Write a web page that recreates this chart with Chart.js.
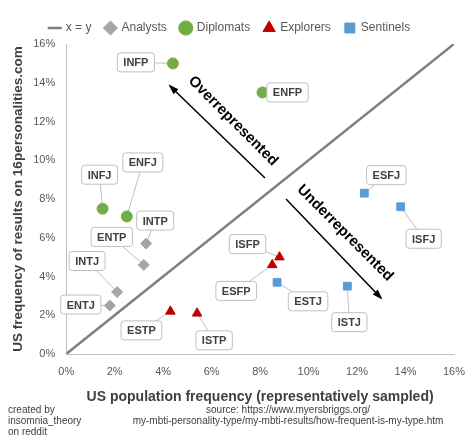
<!DOCTYPE html><html><head><meta charset="utf-8">
<script src="https://cdn.jsdelivr.net/npm/chart.js@4"></script>
<style>html,body{margin:0;padding:0;background:#fff}#w{width:474px;height:440px;position:relative}</style>
</head><body><div id="w"><canvas id="c" width="474" height="440"></canvas></div>
<script>
const types = ["INFP","ENFP","INFJ","ENFJ","INTP","ENTP","INTJ","ENTJ","ESTP","ISTP","ISFP","ESFP","ESTJ","ISTJ","ESFJ","ISFJ"];
const groupOf = ["Diplomats","Diplomats","Diplomats","Diplomats","Analysts","Analysts","Analysts","Analysts","Explorers","Explorers","Explorers","Explorers","Sentinels","Sentinels","Sentinels","Sentinels"];
const populationPct = [4.4,8.1,1.5,2.5,3.3,3.2,2.1,1.8,4.3,5.4,8.8,8.5,8.7,11.6,12.3,13.8];
const siteResultsPct = [15.0,13.5,7.5,7.1,5.7,4.6,3.2,2.5,2.2,2.1,5.0,4.6,3.7,3.5,8.3,7.6];
const labelDx = [-37,25,-3,16,9,-32,-30,-29,-29,17,-32,-36,31,2,22,23];
const labelDy = [-1,0,-34,-54,-23,-28,-31,-1,19,27,-13,26,19,36,-18,32];
const groups = ["Analysts","Diplomats","Explorers","Sentinels"];
const colors = {Analysts:"#a5a5a5",Diplomats:"#70ad47",Explorers:"#c00000",Sentinels:"#5b9bd5"};
const styles = {Analysts:"rectRot",Diplomats:"circle",Explorers:"triangle",Sentinels:"rect"};
const FONT = "'Liberation Sans', Arial, sans-serif";

const datasets = [{label:"x = y",type:"line",data:[{x:0,y:0},{x:16,y:16}],borderColor:"#7f7f7f",borderWidth:2.5,pointRadius:0,pointStyle:"line"}];
groups.forEach(g=>{
  const pts=[];
  types.forEach((t,i)=>{ if(groupOf[i]===g) pts.push({x:populationPct[i],y:siteResultsPct[i]}); });
  datasets.push({label:g,data:pts,backgroundColor:colors[g],borderColor:colors[g],pointStyle:styles[g],pointRadius:5.5,pointBorderWidth:1});
});

function labelPos(chart,i){
  const px=chart.scales.x.getPixelForValue(populationPct[i]), py=chart.scales.y.getPixelForValue(siteResultsPct[i]);
  return {px,py,lx:px+labelDx[i],ly:py+labelDy[i]};
}
const deco = {id:"deco",
 beforeDatasetsDraw(chart){
  const ctx=chart.ctx; ctx.save(); ctx.strokeStyle="#bfbfbf"; ctx.lineWidth=1;
  types.forEach((t,i)=>{const p=labelPos(chart,i);ctx.beginPath();ctx.moveTo(p.px,p.py);ctx.lineTo(p.lx,p.ly);ctx.stroke();});
  ctx.restore();
 },
 afterDatasetsDraw(chart){
  const ctx=chart.ctx;
  ctx.save();
  ctx.font="bold 11px "+FONT;
  types.forEach((t,i)=>{
    const p=labelPos(chart,i);
    const w=ctx.measureText(t).width+12, h=19;
    ctx.strokeStyle="#bfbfbf"; ctx.lineWidth=1; ctx.fillStyle="#fff";
    ctx.beginPath(); ctx.roundRect(p.lx-w/2,p.ly-h/2,w,h,3); ctx.fill(); ctx.stroke();
    ctx.fillStyle="#404040"; ctx.textAlign="center"; ctx.textBaseline="middle";
    ctx.fillText(t,p.lx,p.ly+1);
  });
  function arrow(x1,y1,x2,y2){
    ctx.strokeStyle="#000";ctx.fillStyle="#000";ctx.lineWidth=1.5;
    ctx.beginPath();ctx.moveTo(x1,y1);ctx.lineTo(x2,y2);ctx.stroke();
    const a=Math.atan2(y2-y1,x2-x1),L=9;
    ctx.beginPath();ctx.moveTo(x2+2*Math.cos(a),y2+2*Math.sin(a));
    ctx.lineTo(x2-L*Math.cos(a-0.4),y2-L*Math.sin(a-0.4));
    ctx.lineTo(x2-L*Math.cos(a+0.4),y2-L*Math.sin(a+0.4));ctx.closePath();ctx.fill();
  }
  arrow(265,178,170,86);
  arrow(286,199,381,298);
  ctx.font="bold 15px "+FONT; ctx.fillStyle="#000";ctx.textAlign="center";ctx.textBaseline="middle";
  ctx.save();ctx.translate(233,121);ctx.rotate(Math.PI/4);ctx.fillText("Overrepresented",0,0);ctx.restore();
  ctx.save();ctx.translate(345,233);ctx.rotate(Math.PI/4);ctx.fillText("Underrepresented",0,0);ctx.restore();
  ctx.font="10px "+FONT;ctx.fillStyle="#404040";ctx.textAlign="left";ctx.textBaseline="alphabetic";
  ctx.fillText("created by",8,413);ctx.fillText("insomnia_theory",8,424);ctx.fillText("on reddit",8,435);
  ctx.textAlign="center";
  ctx.fillText("source: https://www.myersbriggs.org/",288,413);
  ctx.fillText("my-mbti-personality-type/my-mbti-results/how-frequent-is-my-type.htm",288,424);
  ctx.restore();
 }};

new Chart(document.getElementById("c"),{type:"scatter",data:{datasets},
 options:{responsive:false,animation:false,
  layout:{padding:{left:6,right:20,top:8,bottom:30}},
  plugins:{legend:{position:"top",labels:{usePointStyle:true,boxWidth:10,boxHeight:10,padding:14,font:{family:FONT,size:12},color:"#595959"}},tooltip:{enabled:false}},
  scales:{
   x:{type:"linear",min:0,max:16,ticks:{stepSize:2,callback:v=>v+"%",color:"#595959",font:{family:FONT,size:11}},grid:{display:false},border:{color:"#bfbfbf"},
      title:{display:true,text:"US population frequency (representatively sampled)",font:{family:FONT,size:14,weight:"bold"},color:"#404040",padding:{top:8}}},
   y:{type:"linear",min:0,max:16,ticks:{stepSize:2,callback:v=>v+"%",color:"#595959",font:{family:FONT,size:11}},grid:{display:false},border:{color:"#bfbfbf"},
      title:{display:true,text:"US frequency of results on 16personalities.com",font:{family:FONT,size:13.5,weight:"bold"},color:"#404040"}}
  }},plugins:[deco]});
</script></body></html>
